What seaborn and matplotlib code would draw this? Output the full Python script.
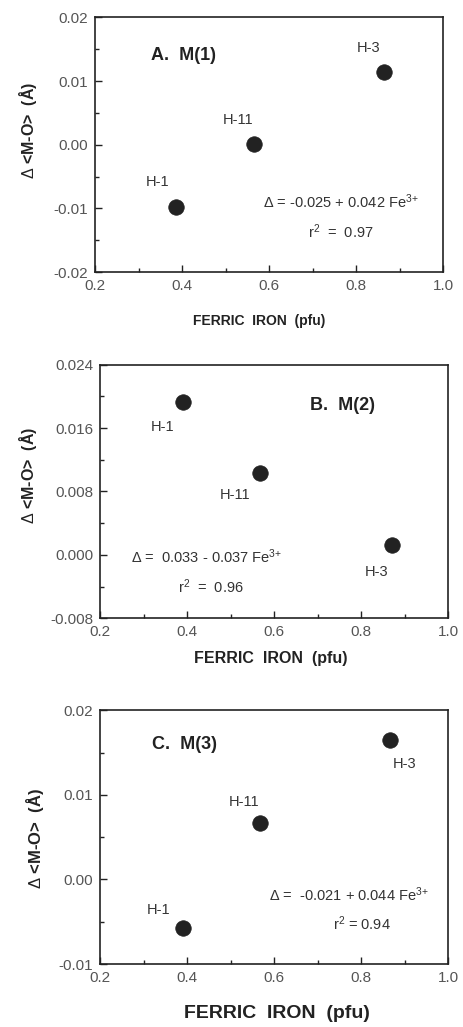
import seaborn as sns
import pandas as pd
import matplotlib.pyplot as plt
from matplotlib.ticker import MultipleLocator, FormatStrFormatter

# data
samples = ["H-1", "H-11", "H-3"]
ferric_m1 = [0.386, 0.566, 0.864]
delta_m1 = [-0.0098, 0.0002, 0.0115]
ferric_m2 = [0.391, 0.568, 0.871]
delta_m2 = [0.0193, 0.0103, 0.0012]
ferric_m3 = [0.391, 0.568, 0.867]
delta_m3 = [-0.0057, 0.0067, 0.0165]

panel_titles = ["A.  M(1)", "B.  M(2)", "C.  M(3)"]
equations = [r"$\Delta$ = -0.025 + 0.042 Fe$^{3\!+}$",
             r"$\Delta$ =  0.033 - 0.037 Fe$^{3\!+}$",
             r"$\Delta$ =  -0.021 + 0.044 Fe$^{3\!+}$"]
r2_texts = [r"r$^2$  =  0.97", r"r$^2$  =  0.96", r"r$^2$ = 0.94"]
y_limits = [(-0.02, 0.02), (-0.008, 0.024), (-0.01, 0.02)]
y_steps = [0.01, 0.008, 0.01]
y_formats = ["%.2f", "%.3f", "%.2f"]

sns.set_style("ticks")
plt.rcParams['font.family'] = ['Liberation Sans', 'DejaVu Sans']
plt.rcParams['mathtext.fontset'] = 'custom'
plt.rcParams['mathtext.rm'] = 'Liberation Sans'
plt.rcParams['mathtext.it'] = 'Liberation Sans:italic'
plt.rcParams['mathtext.bf'] = 'Liberation Sans:bold'

ink = '#222222'
tick_col = '#555555'

fig = plt.figure(figsize=(4.64, 10.27), dpi=100)
# axes rectangles in figure fractions
rects = [[0.205, 0.735, 0.750, 0.248],
         [0.216, 0.398, 0.750, 0.247],
         [0.216, 0.0613, 0.750, 0.247]]

frames = [pd.DataFrame({"sample": samples, "ferric": ferric_m1, "delta": delta_m1}),
          pd.DataFrame({"sample": samples, "ferric": ferric_m2, "delta": delta_m2}),
          pd.DataFrame({"sample": samples, "ferric": ferric_m3, "delta": delta_m3})]

# per panel label offsets (points) for H-1, H-11, H-3
label_offsets = [[(-13, 18), (-12, 17), (-11, 17)],
                 [(-15, -18), (-18, -16), (-11, -19)],
                 [(-18, 13), (-12, 15), (10, -17)]]
title_pos = [(0.16, 0.851), (0.603, 0.838), (0.149, 0.866)]
eq_pos = [(0.705, 0.275), (0.307, 0.241), (0.716, 0.273)]
r2_pos = [(0.707, 0.157), (0.318, 0.123), (0.753, 0.158)]
xlabel_size = [10, 11.5, 14]
ylabel_size = [11.5, 11.5, 12]
xlabel_coords = [(0.471, -0.165), (0.489, -0.13), (0.509, -0.162)]
ylabel_coords = [(-0.16, 0.557), (-0.175, 0.563), (-0.155, 0.494)]

for i, df in enumerate(frames):
    ax = fig.add_axes(rects[i])
    sns.scatterplot(data=df, x="ferric", y="delta", ax=ax, s=125,
                    color=ink, edgecolor=ink, linewidth=0.5, legend=False, zorder=3)
    for j, row in df.iterrows():
        ax.annotate(row["sample"], (row["ferric"], row["delta"]),
                    xytext=label_offsets[i][j], textcoords="offset points",
                    ha="center", va="center", fontsize=10.5, color='#333333')
    ax.set_xlim(0.2, 1.0)
    ax.set_ylim(*y_limits[i])
    ax.xaxis.set_major_locator(MultipleLocator(0.2))
    ax.xaxis.set_minor_locator(MultipleLocator(0.1))
    ax.xaxis.set_major_formatter(FormatStrFormatter("%.1f"))
    ax.yaxis.set_major_locator(MultipleLocator(y_steps[i]))
    ax.yaxis.set_minor_locator(MultipleLocator(y_steps[i] / 2))
    ax.yaxis.set_major_formatter(FormatStrFormatter(y_formats[i]))
    ax.tick_params(which="both", direction="in", top=False, right=False,
                   colors=ink, labelcolor=tick_col, labelsize=11, width=1)
    ax.tick_params(which="major", length=5, pad=5)
    ax.tick_params(which="minor", length=3)
    for sp in ax.spines.values():
        sp.set_visible(True)
        sp.set_linewidth(1.2)
        sp.set_color(ink)

    ax.text(*title_pos[i], panel_titles[i], transform=ax.transAxes,
            fontsize=13, fontweight="bold", color=ink, ha="left", va="center")
    ax.text(*eq_pos[i], equations[i], transform=ax.transAxes,
            fontsize=10.5, color='#333333', ha="center", va="center")
    ax.text(*r2_pos[i], r2_texts[i], transform=ax.transAxes,
            fontsize=10.5, color='#333333', ha="center", va="center")

    ax.set_xlabel("FERRIC  IRON  (pfu)", fontsize=xlabel_size[i],
                  fontweight="bold", color=ink)
    ax.set_ylabel(r"$\Delta$ <M-O>  (Å)", fontsize=ylabel_size[i],
                  fontweight="bold", color=ink)
    ax.xaxis.set_label_coords(*xlabel_coords[i])
    ax.yaxis.set_label_coords(*ylabel_coords[i])

fig.savefig("out.png", dpi=100)
